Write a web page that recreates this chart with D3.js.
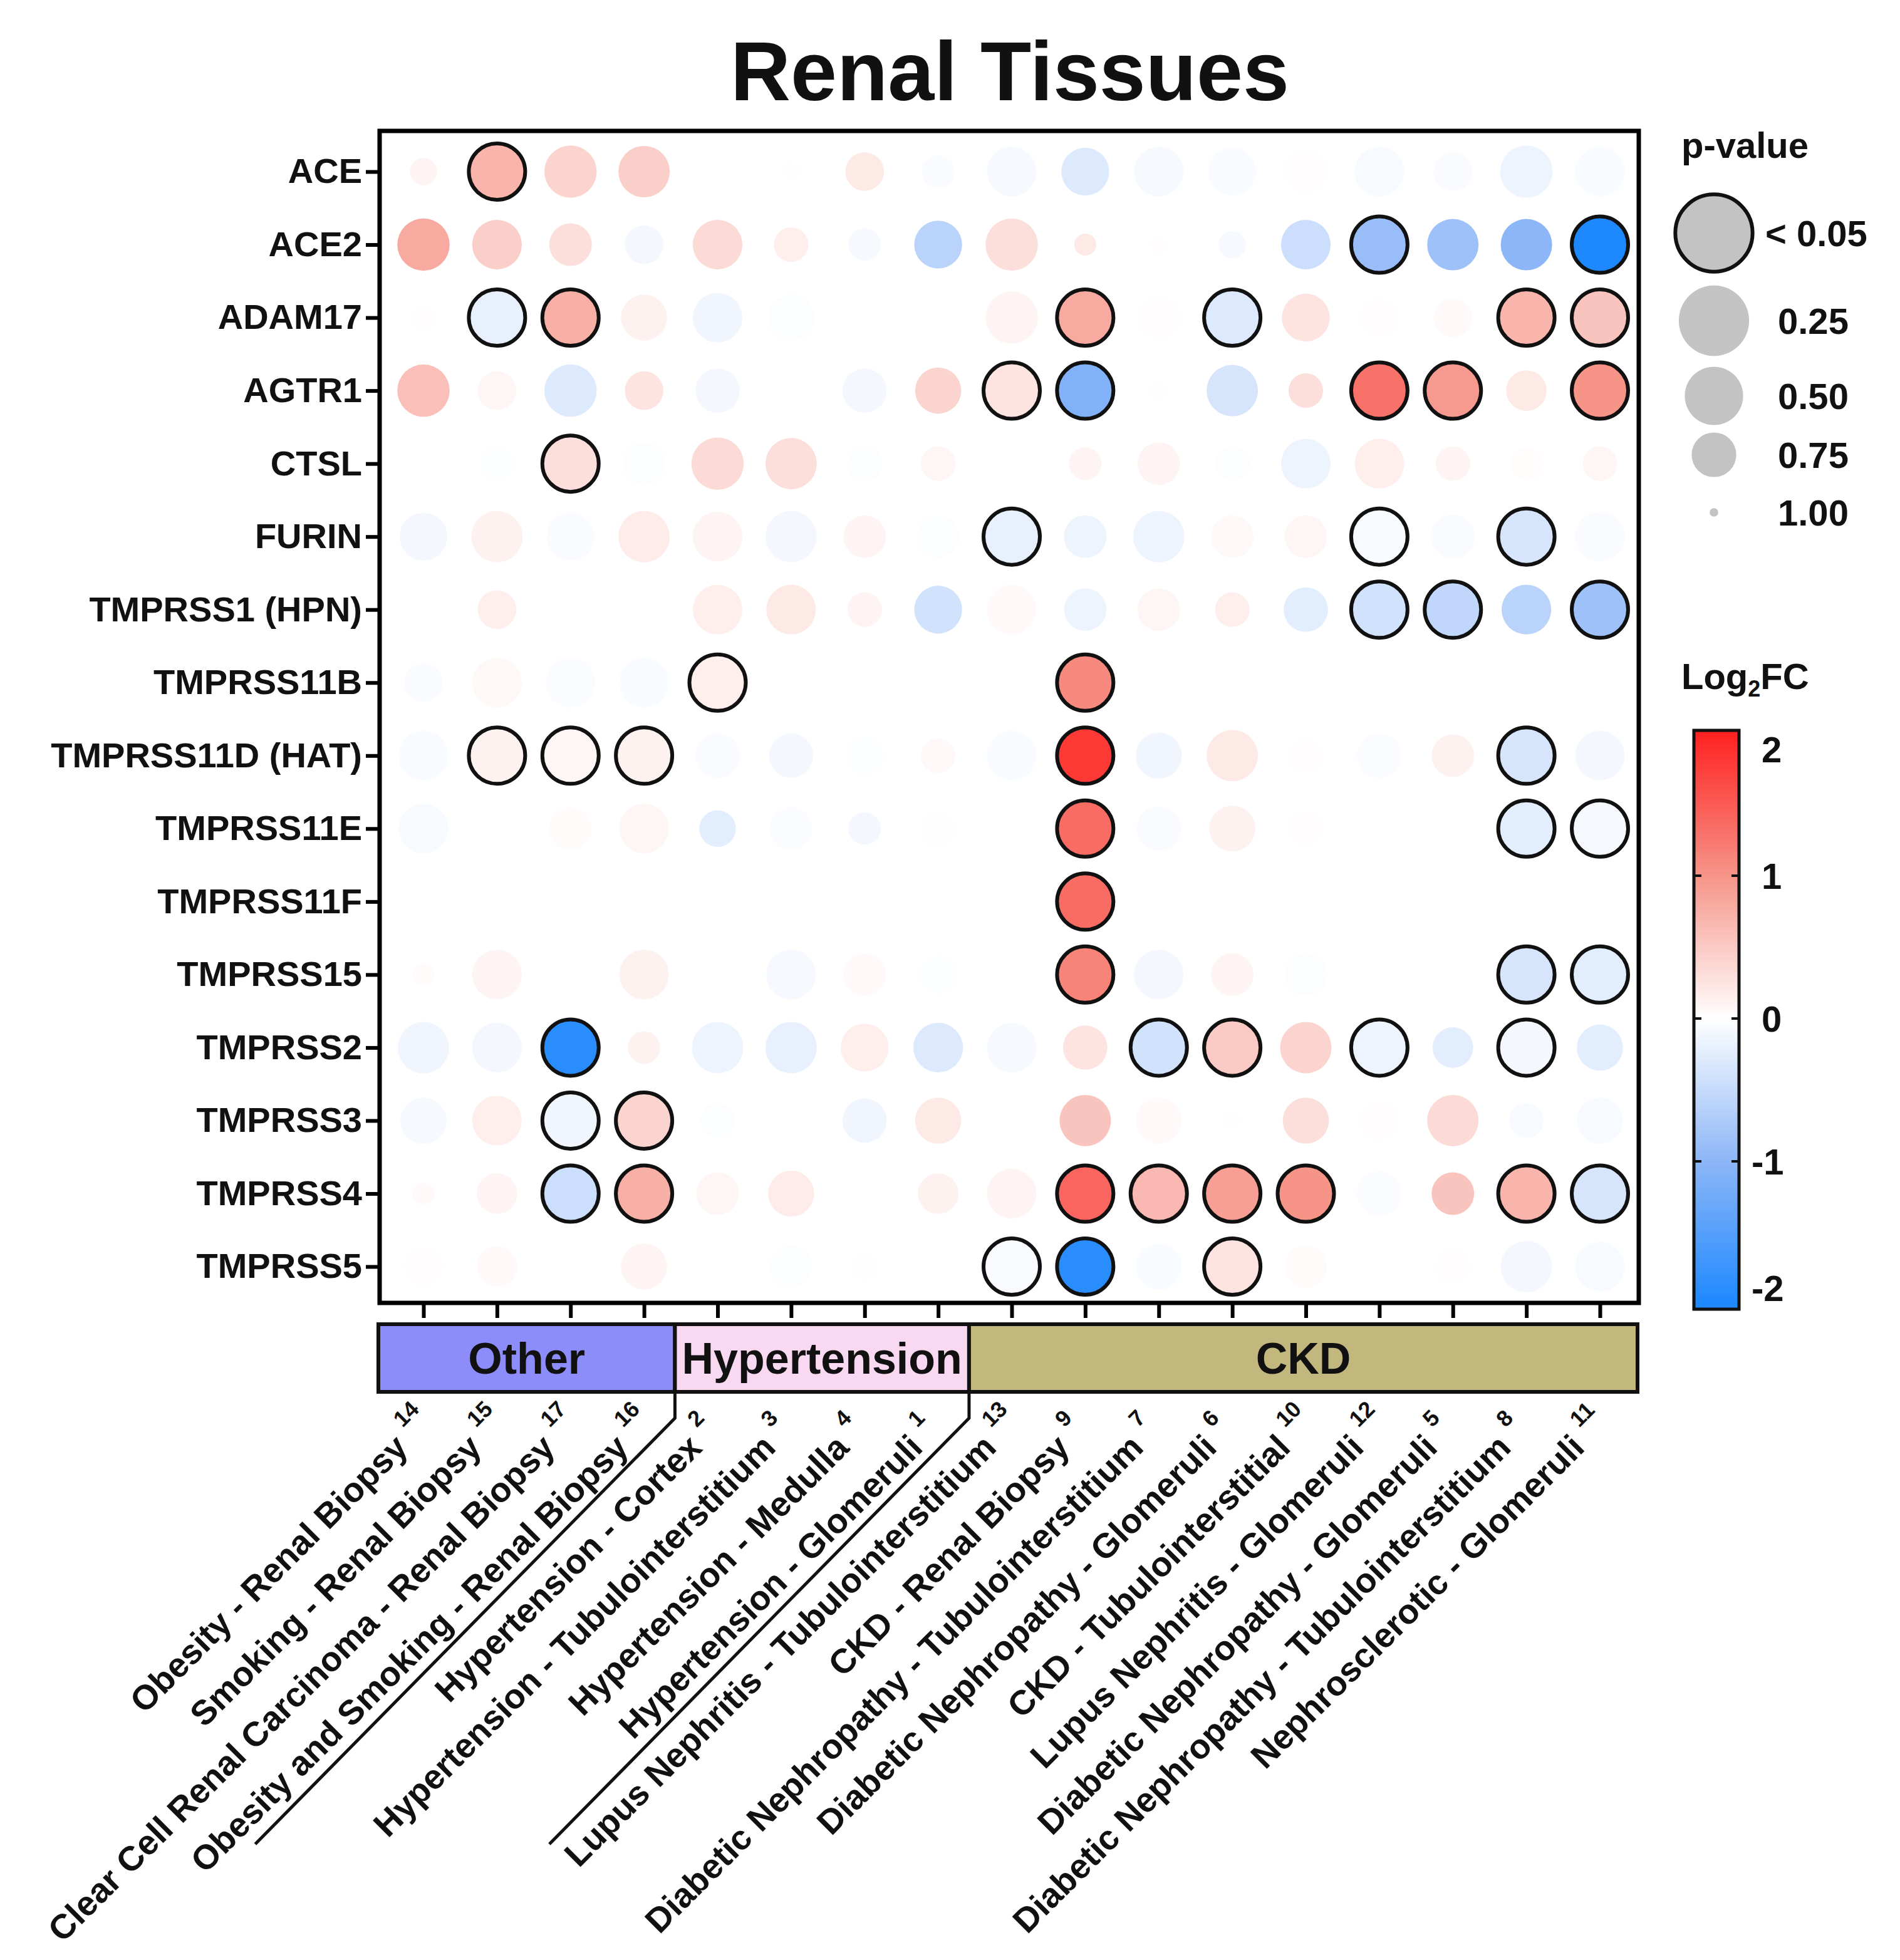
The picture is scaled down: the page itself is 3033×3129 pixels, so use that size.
<!DOCTYPE html>
<html>
<head>
<meta charset="utf-8">
<script src="https://cdn.jsdelivr.net/npm/d3@7"></script>
<style>
body { margin: 0; background: #fff; }
text { font-family: "Liberation Sans", Arial, sans-serif; font-weight: bold; fill: #111; }
</style>
</head>
<body>
<div id="chart"></div>
<script>
const genes = ["ACE", "ACE2", "ADAM17", "AGTR1", "CTSL", "FURIN", "TMPRSS1 (HPN)", "TMPRSS11B",
    "TMPRSS11D (HAT)", "TMPRSS11E", "TMPRSS11F", "TMPRSS15", "TMPRSS2", "TMPRSS3", "TMPRSS4", "TMPRSS5"];

const tissues = ["Obesity - Renal Biopsy", "Smoking - Renal Biopsy", "Clear Cell Renal Carcinoma - Renal Biopsy",
    "Obesity and Smoking - Renal Biopsy", "Hypertension - Cortex", "Hypertension - Tubulointerstitium",
    "Hypertension - Medulla", "Hypertension - Glomeruli", "Lupus Nephritis - Tubulointerstitium",
    "CKD - Renal Biopsy", "Diabetic Nephropathy - Tubulointerstitium", "Diabetic Nephropathy - Glomeruli",
    "CKD - Tubulointerstitial", "Lupus Nephritis - Glomeruli", "Diabetic Nephropathy - Glomeruli",
    "Diabetic Nephropathy - Tubulointerstitium", "Nephrosclerotic - Glomeruli"];
const tissueIds = [14, 15, 17, 16, 2, 3, 4, 1, 13, 9, 7, 6, 10, 12, 5, 8, 11];
const tissueGroups = ["Other", "Other", "Other", "Other", "Hypertension", "Hypertension", "Hypertension",
    "Hypertension", "CKD", "CKD", "CKD", "CKD", "CKD", "CKD", "CKD", "CKD", "CKD"];

const groupNames = ["Other", "Hypertension", "CKD"];
const groupColours = ["#8c8cfb", "#f9d8f1", "#c2b77c"];

// log2 fold change, one row per gene, one column per tissue (null = not measured)
const log2fc = [
    [0.1, 0.7, 0.4, 0.45, 0, 0.02, 0.2, -0.05, -0.08, -0.3, -0.08, -0.06, 0.02, -0.07, -0.05, -0.15, -0.06],
    [0.8, 0.45, 0.3, -0.1, 0.35, 0.15, -0.08, -0.6, 0.3, 0.2, 0.02, -0.08, -0.45, -0.9, -0.85, -1.0, -2.0],
    [0.02, -0.2, 0.75, 0.12, -0.12, -0.03, 0, 0, 0.1, 0.8, 0.02, -0.3, 0.25, 0.02, 0.05, 0.7, 0.55],
    [0.6, 0.08, -0.3, 0.25, -0.1, 0, -0.1, 0.4, 0.25, -1.1, 0.01, -0.35, 0.3, 1.3, 0.95, 0.2, 1.0],
    [0, -0.02, 0.3, -0.03, 0.35, 0.3, -0.03, 0.08, 0, 0.1, 0.1, -0.03, -0.15, 0.15, 0.1, 0.03, 0.08],
    [-0.1, 0.12, -0.05, 0.18, 0.1, -0.1, 0.1, -0.03, -0.2, -0.15, -0.15, 0.06, 0.08, -0.06, -0.05, -0.35, -0.05],
    [0, 0.15, 0, 0, 0.15, 0.2, 0.1, -0.4, 0.05, -0.15, 0.08, 0.15, -0.25, -0.4, -0.55, -0.6, -0.85],
    [-0.05, 0.07, -0.04, -0.06, 0.15, null, null, null, null, 1.1, null, null, null, null, null, null, null],
    [-0.06, 0.12, 0.08, 0.12, -0.05, -0.1, -0.02, 0.06, -0.06, 1.8, -0.12, 0.2, 0.02, -0.04, 0.12, -0.35, -0.1],
    [-0.07, 0, 0.04, 0.08, -0.25, -0.04, -0.1, 0.01, null, 1.35, -0.05, 0.12, 0.02, null, null, -0.25, -0.08],
    [null, null, null, null, null, null, null, null, null, 1.35, null, null, null, null, null, null, null],
    [0.04, 0.1, 0, 0.12, 0, -0.08, 0.05, -0.02, null, 1.15, -0.1, 0.1, -0.03, null, null, -0.35, -0.25],
    [-0.12, -0.1, -1.9, 0.12, -0.15, -0.2, 0.15, -0.3, -0.08, 0.25, -0.4, 0.5, 0.4, -0.15, -0.25, -0.1, -0.25],
    [-0.08, 0.15, -0.12, 0.4, -0.03, 0, -0.12, 0.2, 0, 0.55, 0.05, 0.02, 0.3, 0.02, 0.35, -0.07, -0.07],
    [0.05, 0.1, -0.45, 0.75, 0.08, 0.18, 0, 0.12, 0.1, 1.4, 0.65, 0.9, 1.0, -0.04, 0.55, 0.7, -0.35],
    [0.02, 0.05, 0, 0.1, 0, -0.03, 0.01, 0, -0.05, -1.9, -0.06, 0.25, 0.04, 0, 0.02, -0.1, -0.07]
];

// p-values in the same layout
const pvals = [
    [0.8, 0.01, 0.2, 0.25, 0.9, 0.9, 0.6, 0.75, 0.3, 0.35, 0.3, 0.35, 0.5, 0.3, 0.6, 0.2, 0.3],
    [0.2, 0.3, 0.5, 0.6, 0.3, 0.7, 0.75, 0.35, 0.2, 0.85, 0.9, 0.8, 0.3, 0.01, 0.25, 0.25, 0.01],
    [0.85, 0.01, 0.01, 0.4, 0.3, 0.4, 0.9, 0.8, 0.2, 0.01, 0.5, 0.01, 0.35, 0.6, 0.6, 0.01, 0.01],
    [0.2, 0.6, 0.2, 0.6, 0.45, 0.9, 0.45, 0.4, 0.01, 0.01, 0.9, 0.25, 0.7, 0.01, 0.01, 0.55, 0.01],
    [0.8, 0.7, 0.01, 0.5, 0.2, 0.25, 0.7, 0.7, 0.9, 0.75, 0.5, 0.7, 0.3, 0.3, 0.7, 0.75, 0.7],
    [0.35, 0.25, 0.35, 0.25, 0.3, 0.25, 0.5, 0.5, 0.01, 0.5, 0.25, 0.5, 0.5, 0.01, 0.45, 0.01, 0.3],
    [0.9, 0.6, 0.9, 0.9, 0.3, 0.3, 0.7, 0.35, 0.3, 0.5, 0.5, 0.7, 0.45, 0.01, 0.01, 0.3, 0.01],
    [0.6, 0.3, 0.3, 0.3, 0.01, null, null, null, null, 0.01, null, null, null, null, null, null, null],
    [0.3, 0.01, 0.01, 0.01, 0.45, 0.45, 0.6, 0.7, 0.3, 0.01, 0.4, 0.25, 0.7, 0.45, 0.5, 0.01, 0.3],
    [0.3, 0.9, 0.5, 0.3, 0.65, 0.5, 0.75, 0.7, null, 0.01, 0.45, 0.4, 0.7, null, null, 0.01, 0.01],
    [null, null, null, null, null, null, null, null, null, 0.01, null, null, null, null, null, null, null],
    [0.85, 0.3, 0.9, 0.3, 0.9, 0.3, 0.5, 0.6, null, 0.01, 0.3, 0.5, 0.5, null, null, 0.01, 0.01],
    [0.25, 0.3, 0.01, 0.75, 0.25, 0.25, 0.35, 0.3, 0.3, 0.45, 0.01, 0.01, 0.25, 0.01, 0.55, 0.01, 0.4],
    [0.4, 0.3, 0.01, 0.01, 0.7, 0.9, 0.45, 0.4, 0.9, 0.25, 0.4, 0.9, 0.4, 0.6, 0.25, 0.7, 0.4],
    [0.85, 0.55, 0.01, 0.01, 0.5, 0.4, 0.9, 0.55, 0.3, 0.01, 0.01, 0.01, 0.01, 0.45, 0.5, 0.01, 0.01],
    [0.6, 0.55, 0.9, 0.4, 0.9, 0.5, 0.8, 0.9, 0.01, 0.01, 0.4, 0.01, 0.5, 0.9, 0.7, 0.25, 0.3]
];

const legendP = [0.01, 0.25, 0.5, 0.75, 1];
const legendLabels = ["< 0.05", "0.25", "0.50", "0.75", "1.00"];
const fcTicks = [2, 1, 0, -1, -2];

const width = 3033, height = 3129;
const frame = { left: 606, right: 2616, top: 209, bottom: 2080 };

const svg = d3.select("#chart")
      .append("svg")
      .attr("width", width)
      .attr("height", height);

const x = d3.scalePoint()
      .domain(d3.range(tissues.length))
      .range([676, 2554]);

const y = d3.scalePoint()
      .domain(genes)
      .range([274, 2022]);

const colour = d3.scaleLinear()
      .domain([-2, -1, 0, 1, 2])
      .range(["#1e88ff", "#8cb6f7", "#ffffff", "#f69488", "#ff2222"])
      .clamp(true);

const radius = d3.scaleLinear()
      .domain([0.05, 0.25, 0.5, 0.75, 1])
      .range([44, 41, 34, 26, 5])
      .clamp(true);

const sigR = 45;
const cellR = p => p < 0.05 ? sigR : radius(p);

// title
svg.append("text")
    .attr("x", 1612)
    .attr("y", 160)
    .attr("text-anchor", "middle")
    .attr("font-size", 133)
    .attr("fill", "#000")
    .text("Renal Tissues");

// dots
const cells = [];
genes.forEach(function (g, i) {
    tissues.forEach(function (t, j) {
        if (log2fc[i][j] === null) return;
        cells.push({ gene: g, col: j, fc: log2fc[i][j], p: pvals[i][j] });
    });
});

svg.append("g")
    .selectAll("circle")
    .data(cells)
    .enter()
    .append("circle")
    .attr("cx", d => x(d.col))
    .attr("cy", d => y(d.gene))
    .attr("r", d => cellR(d.p))
    .attr("fill", d => colour(d.fc))
    .attr("stroke", d => d.p < 0.05 ? "#111" : "none")
    .attr("stroke-width", 6);

// frame
svg.append("rect")
    .attr("x", frame.left)
    .attr("y", frame.top)
    .attr("width", frame.right - frame.left)
    .attr("height", frame.bottom - frame.top)
    .attr("fill", "none")
    .attr("stroke", "#000")
    .attr("stroke-width", 7);

// y axis
const yAxis = svg.append("g")
      .attr("transform", `translate(${frame.left},0)`)
      .call(d3.axisLeft(y).tickSize(22).tickPadding(6));
yAxis.select(".domain").remove();
yAxis.selectAll(".tick line").attr("stroke", "#000").attr("stroke-width", 6);
yAxis.selectAll(".tick text")
    .attr("font-size", 56)
    .attr("font-family", "Liberation Sans, Arial, sans-serif")
    .attr("font-weight", "bold")
    .attr("fill", "#111");

// x axis ticks
const xAxis = svg.append("g")
      .attr("transform", `translate(0,${frame.bottom})`)
      .call(d3.axisBottom(x).tickSize(24).tickFormat(""));
xAxis.select(".domain").remove();
xAxis.selectAll(".tick line").attr("stroke", "#000").attr("stroke-width", 6);

// group bands
const bandTop = 2114, bandBottom = 2222;
const step = x.step();
const groupExtents = groupNames.map(function (name, gi) {
    const cols = d3.range(tissues.length).filter(j => tissueGroups[j] === name);
    const first = d3.min(cols), last = d3.max(cols);
    const left = gi === 0 ? frame.left - 2 : x(first) - 0.58 * step;
    const right = gi === groupNames.length - 1 ? frame.right - 2 : x(last + 1) - 0.58 * step;
    return { name, left, right, colour: groupColours[gi] };
});

svg.append("g")
    .selectAll("rect")
    .data(groupExtents)
    .enter()
    .append("rect")
    .attr("x", d => d.left)
    .attr("y", bandTop)
    .attr("width", d => d.right - d.left)
    .attr("height", bandBottom - bandTop)
    .attr("fill", d => d.colour)
    .attr("stroke", "#111")
    .attr("stroke-width", 6);

svg.append("g")
    .selectAll("text")
    .data(groupExtents)
    .enter()
    .append("text")
    .attr("x", d => (d.left + d.right) / 2)
    .attr("y", 2193)
    .attr("text-anchor", "middle")
    .attr("font-size", 70)
    .text(d => d.name);

// diagonal separators between groups
svg.append("g")
    .selectAll("path")
    .data(groupExtents.slice(1))
    .enter()
    .append("path")
    .attr("d", d => `M${d.left},${bandBottom} L${d.left},2264 L${d.left - 670},2944`)
    .attr("fill", "none")
    .attr("stroke", "#111")
    .attr("stroke-width", 5);

// rotated tissue labels
const labels = svg.append("g")
      .selectAll("g")
      .data(tissues)
      .enter()
      .append("g")
      .attr("transform", (d, j) => `translate(${x(j) - 22},2314) rotate(-45)`);

labels.append("text")
    .attr("text-anchor", "end")
    .attr("font-size", 55)
    .text(d => d);

labels.append("text")
    .attr("x", 16)
    .attr("y", -32)
    .attr("font-size", 36)
    .text((d, j) => tissueIds[j]);

// p-value legend
const legendY = [372, 512, 632, 726, 818];
svg.append("text")
    .attr("x", 2684)
    .attr("y", 252)
    .attr("font-size", 58)
    .text("p-value");

svg.append("g")
    .selectAll("circle")
    .data(legendP)
    .enter()
    .append("circle")
    .attr("cx", 2736)
    .attr("cy", (d, i) => legendY[i])
    .attr("r", d => cellR(d) * 1.37)
    .attr("fill", "#c3c3c3")
    .attr("stroke", d => d < 0.05 ? "#111" : "none")
    .attr("stroke-width", 6);

svg.append("g")
    .selectAll("text")
    .data(legendLabels)
    .enter()
    .append("text")
    .attr("x", (d, i) => i === 0 ? 2818 : 2838)
    .attr("y", (d, i) => legendY[i] + 21)
    .attr("font-size", 58)
    .text(d => d);

// colour bar
const cbTop = 1166, cbBottom = 2090, cbLeft = 2704, cbWidth = 72;
const cb = d3.scaleLinear().domain([2, -2]).range([cbTop + 4, cbBottom - 8]);

const grad = svg.append("defs")
      .append("linearGradient")
      .attr("id", "fcgrad")
      .attr("x1", 0).attr("y1", 0).attr("x2", 0).attr("y2", 1);
d3.range(2, -2.01, -0.25).forEach(function (v) {
    grad.append("stop")
        .attr("offset", (cb(v) - cbTop) / (cbBottom - cbTop))
        .attr("stop-color", colour(v));
});

svg.append("text")
    .attr("x", 2684)
    .attr("y", 1100)
    .attr("font-size", 58)
    .call(function (t) {
        t.append("tspan").text("Log");
        t.append("tspan").attr("font-size", 36).attr("dy", 12).text("2");
        t.append("tspan").attr("dy", -12).text("FC");
    });

svg.append("rect")
    .attr("x", cbLeft)
    .attr("y", cbTop)
    .attr("width", cbWidth)
    .attr("height", cbBottom - cbTop)
    .attr("fill", "url(#fcgrad)")
    .attr("stroke", "#111")
    .attr("stroke-width", 5);

const innerTicks = fcTicks.filter(v => Math.abs(v) < 2);
svg.append("g")
    .selectAll("path")
    .data(innerTicks)
    .enter()
    .append("path")
    .attr("d", v => `M${cbLeft},${cb(v)} h12 M${cbLeft + cbWidth},${cb(v)} h-12`)
    .attr("stroke", "#111")
    .attr("stroke-width", 4);

svg.append("g")
    .selectAll("text")
    .data(fcTicks)
    .enter()
    .append("text")
    .attr("x", v => v < 0 ? 2796 : 2812)
    .attr("y", v => cb(v) + 21 + (v === 2 ? 26 : v === -2 ? -26 : 0))
    .attr("font-size", 58)
    .text(v => v < 0 ? "-" + Math.abs(v) : v);
</script>
</body>
</html>
